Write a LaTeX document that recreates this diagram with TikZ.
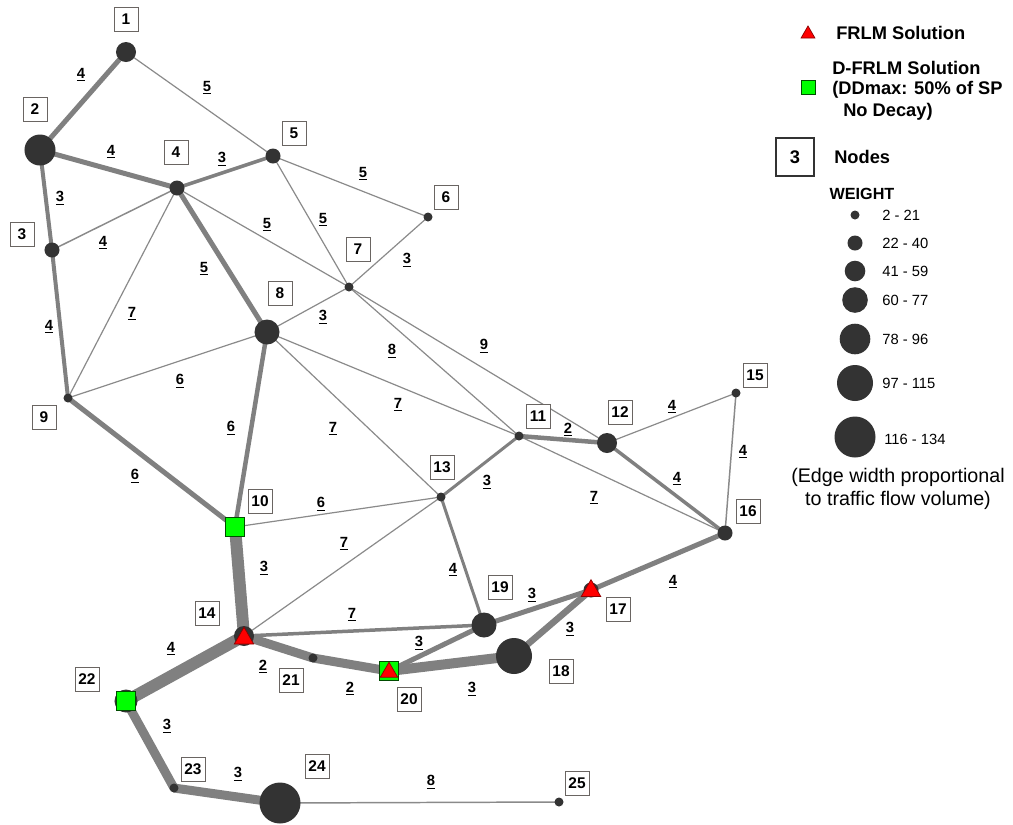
\documentclass[tikz,border=0pt]{standalone}
\usepackage{fontspec}
\setmainfont{Liberation Sans}
\usetikzlibrary{shapes.geometric,backgrounds}
\definecolor{vtxgray}{HTML}{333333}
\definecolor{linkgray}{HTML}{808080}
\definecolor{thingray}{HTML}{8A8A8A}
\definecolor{boxgray}{HTML}{6A6562}
\definecolor{frlmred}{HTML}{FF0000}
\definecolor{dfrlmgreen}{HTML}{00FF00}
\newcommand{\ulab}[1]{\underline{#1}}
\begin{document}
\begin{tikzpicture}[x=0.025cm,y=-0.025cm,
  vtx/.style={circle,fill=vtxgray,inner sep=0pt,minimum size=#1*0.05cm},
  link/.style={draw=linkgray,line width=#1*0.71pt},
  thin link/.style={draw=thingray,line width=0.85pt},
  idbox/.style={draw=boxgray,line width=0.6pt,fill=white,inner sep=0pt,
    minimum width=0.6cm,minimum height=0.6cm,font=\bfseries\fontsize{11}{12}\selectfont},
  elab/.style={inner sep=1pt,font=\bfseries\fontsize{10.5}{12}\selectfont},
  tri/.style={regular polygon,regular polygon sides=3,fill=frlmred,draw=red!55!black,
    line width=0.5pt,inner sep=0pt,minimum size=0.56cm},
  sq/.style={rectangle,fill=dfrlmgreen,draw=green!30!black,line width=0.5pt,
    inner sep=0pt,minimum size=0.48cm},
  legtext/.style={anchor=west,inner sep=0pt,font=\bfseries\fontsize{13}{15}\selectfont},
  rangetext/.style={anchor=west,inner sep=0pt,font=\fontsize{10.5}{12}\selectfont}
]
\useasboundingbox (0,0) rectangle (1013,824);

% ---------- vertices (radius in px) ----------
\node[vtx=10]   (v1)  at (126,52)  {};
\node[vtx=15.5] (v2)  at (40,150)  {};
\node[vtx=7.5]  (v3)  at (52,250)  {};
\node[vtx=7.5]  (v4)  at (177,188) {};
\node[vtx=7.5]  (v5)  at (273,156) {};
\node[vtx=4.5]  (v6)  at (428,217) {};
\node[vtx=4.5]  (v7)  at (349,287) {};
\node[vtx=12.5] (v8)  at (267,332) {};
\node[vtx=4.5]  (v9)  at (68,398)  {};
\node[vtx=4.5]  (v10) at (235,527) {};
\node[vtx=4.5]  (v11) at (519,436) {};
\node[vtx=10]   (v12) at (607,443) {};
\node[vtx=4.5]  (v13) at (441,497) {};
\node[vtx=10]   (v14) at (244,636) {};
\node[vtx=4.5]  (v15) at (736,393) {};
\node[vtx=7.5]  (v16) at (725,533) {};
\node[vtx=7.5]  (v17) at (591,590) {};
\node[vtx=18]   (v18) at (514,656) {};
\node[vtx=12.5] (v19) at (484,625) {};
\node[vtx=4.5]  (v20) at (389,671) {};
\node[vtx=4.5]  (v21) at (313,658) {};
\node[vtx=11.5] (v22) at (126,701) {};
\node[vtx=4.5]  (v23) at (174,788) {};
\node[vtx=20.5] (v24) at (280,803) {};
\node[vtx=4.5]  (v25) at (559,802) {};

% ---------- solution markers ----------
\node[sq]  (m10)  at (v10) {};
\node[sq]  (m22)  at (v22) {};
\node[sq]  (m20s) at (v20) {};
\node[tri,minimum size=0.5cm] (m20t) at ([yshift=-0.03cm]v20) {};
\node[tri] (m14) at ([yshift=-0.06cm]v14) {};
\node[tri] (m17) at ([yshift=-0.02cm]v17) {};

% ---------- node number boxes ----------
\node[idbox] (t1)  at (126,19)  {1};
\node[idbox] (t2)  at (35,109)  {2};
\node[idbox] (t3)  at (22,234)  {3};
\node[idbox] (t4)  at (176,152) {4};
\node[idbox] (t5)  at (294,133) {5};
\node[idbox] (t6)  at (446,197) {6};
\node[idbox] (t7)  at (358,249) {7};
\node[idbox] (t8)  at (280,293) {8};
\node[idbox] (t9)  at (44,417)  {9};
\node[idbox] (t10) at (260,501) {10};
\node[idbox] (t11) at (538,416) {11};
\node[idbox] (t12) at (620,412) {12};
\node[idbox] (t13) at (442,467) {13};
\node[idbox] (t14) at (207,613) {14};
\node[idbox] (t15) at (755,375) {15};
\node[idbox] (t16) at (748,511) {16};
\node[idbox] (t17) at (618,609) {17};
\node[idbox] (t18) at (561,671) {18};
\node[idbox] (t19) at (500,587) {19};
\node[idbox] (t20) at (409,699) {20};
\node[idbox] (t21) at (291,680) {21};
\node[idbox] (t22) at (87,679)  {22};
\node[idbox] (t23) at (193,769) {23};
\node[idbox] (t24) at (317,766) {24};
\node[idbox] (t25) at (577,783) {25};

% ---------- link distances ----------
\node[elab] (d1-2)   at (81,75)   {\ulab{4}};
\node[elab] (d1-5)   at (207,88)  {\ulab{5}};
\node[elab] (d2-4)   at (111,152) {\ulab{4}};
\node[elab] (d2-3)   at (60,198)  {\ulab{3}};
\node[elab] (d4-5)   at (222,159) {\ulab{3}};
\node[elab] (d3-4)   at (103,243) {\ulab{4}};
\node[elab] (d4-7)   at (267,225) {\ulab{5}};
\node[elab] (d5-7)   at (323,220) {\ulab{5}};
\node[elab] (d5-6)   at (363,174) {\ulab{5}};
\node[elab] (d6-7)   at (407,260) {\ulab{3}};
\node[elab] (d7-8)   at (323,317) {\ulab{3}};
\node[elab] (d4-8)   at (204,269) {\ulab{5}};
\node[elab] (d4-9)   at (132,314) {\ulab{7}};
\node[elab] (d3-9)   at (49,327)  {\ulab{4}};
\node[elab] (d8-9)   at (180,381) {\ulab{6}};
\node[elab] (d8-10)  at (231,428) {\ulab{6}};
\node[elab] (d9-10)  at (135,476) {\ulab{6}};
\node[elab] (d7-11)  at (392,351) {\ulab{8}};
\node[elab] (d7-12)  at (484,346) {\ulab{9}};
\node[elab] (d8-11)  at (398,405) {\ulab{7}};
\node[elab] (d8-13)  at (333,429) {\ulab{7}};
\node[elab] (d11-13) at (487,482) {\ulab{3}};
\node[elab] (d10-13) at (321,504) {\ulab{6}};
\node[elab] (d13-14) at (344,544) {\ulab{7}};
\node[elab] (d13-19) at (453,570) {\ulab{4}};
\node[elab] (d11-12) at (568,430) {\ulab{2}};
\node[elab] (d11-16) at (594,498) {\ulab{7}};
\node[elab] (d12-16) at (677,479) {\ulab{4}};
\node[elab] (d12-15) at (672,407) {\ulab{4}};
\node[elab] (d15-16) at (743,452) {\ulab{4}};
\node[elab] (d16-17) at (673,582) {\ulab{4}};
\node[elab] (d17-19) at (532,595) {\ulab{3}};
\node[elab] (d17-18) at (570,629) {\ulab{3}};
\node[elab] (d10-14) at (264,568) {\ulab{3}};
\node[elab] (d14-19) at (352,615) {\ulab{7}};
\node[elab] (d19-20) at (419,643) {\ulab{3}};
\node[elab] (d14-21) at (263,667) {\ulab{2}};
\node[elab] (d20-21) at (350,689) {\ulab{2}};
\node[elab] (d18-20) at (472,689) {\ulab{3}};
\node[elab] (d14-22) at (171,649) {\ulab{4}};
\node[elab] (d22-23) at (167,726) {\ulab{3}};
\node[elab] (d23-24) at (238,774) {\ulab{3}};
\node[elab] (d24-25) at (431,782) {\ulab{8}};

% ---------- legend ----------
\node[tri,minimum size=0.4cm] (lgtri) at (808,34) {};
\node[legtext] (lgfrlm) at (836,33) {FRLM Solution};
\node[sq,minimum size=0.35cm] (lgsq) at (808,87) {};
\node[legtext] (lgd1) at (832,68)  {D-FRLM Solution};
\node[legtext] (lgd2) at (832,90)  {(DDmax: 50\% of SP};
\node[legtext] (lgd3) at (843,112) {No Decay)};
\node[draw=black!80,line width=0.9pt,fill=white,inner sep=0pt,minimum size=0.95cm,
  font=\bfseries\fontsize{13}{15}\selectfont] (lgbox) at (795,157) {3};
\node[legtext] (lgnodes) at (834,157) {Nodes};
\node[inner sep=0pt,font=\bfseries\fontsize{11.5}{13}\selectfont] (lgweight) at (862,194) {WEIGHT};
\node[vtx=4.5]  (lgc1) at (855,215) {};
\node[vtx=7.5]  (lgc2) at (855,243) {};
\node[vtx=10.3] (lgc3) at (855,271) {};
\node[vtx=12.8] (lgc4) at (855,300) {};
\node[vtx=15.3] (lgc5) at (855,339) {};
\node[vtx=18]   (lgc6) at (855,383) {};
\node[vtx=20.5] (lgc7) at (855,437) {};
\node[rangetext] (lgr1) at (882,215) {2 - 21};
\node[rangetext] (lgr2) at (882,243) {22 - 40};
\node[rangetext] (lgr3) at (882,271) {41 - 59};
\node[rangetext] (lgr4) at (882,300) {60 - 77};
\node[rangetext] (lgr5) at (882,339) {78 - 96};
\node[rangetext] (lgr6) at (882,383) {97 - 115};
\node[rangetext] (lgr7) at (884,439) {116 - 134};
\node[inner sep=0pt,align=center,font=\fontsize{14}{16.5}\selectfont] (lgnote) at (898,489)
  {(Edge width proportional\\ to traffic flow volume)};

% ---------- links (drawn beneath the vertices) ----------
\begin{pgfonlayer}{background}
\fill[white] (0,0) rectangle (1013,824);
% light links
\draw[thin link] (v1.center) -- (v5.center);
\draw[thin link,line width=1.05pt] (v3.center) -- (v4.center);
\draw[thin link] (v4.center) -- (v7.center);
\draw[thin link] (v4.center) -- (v9.center);
\draw[thin link] (v5.center) -- (v6.center);
\draw[thin link] (v5.center) -- (v7.center);
\draw[thin link] (v6.center) -- (v7.center);
\draw[thin link] (v7.center) -- (v8.center);
\draw[thin link] (v7.center) -- (v11.center);
\draw[thin link] (v7.center) -- (v12.center);
\draw[thin link] (v8.center) -- (v9.center);
\draw[thin link] (v8.center) -- (v11.center);
\draw[thin link] (v8.center) -- (v13.center);
\draw[thin link] (v10.center) -- (v13.center);
\draw[thin link] (v11.center) -- (v16.center);
\draw[thin link] (v12.center) -- (v15.center);
\draw[thin link,line width=1.05pt] (v15.center) -- (v16.center);
\draw[thin link] (v13.center) -- (v14.center);
\draw[thin link,line width=1.05pt] (v24.center) -- (v25.center);
% heavier links, width in px
\draw[link=5]   (v1.center) -- (v2.center);
\draw[link=5]   (v2.center) -- (v4.center);
\draw[link=4]   (v2.center) -- (v3.center);
\draw[link=4]   (v3.center) -- (v9.center);
\draw[link=3.5] (v4.center) -- (v5.center);
\draw[link=5]   (v4.center) -- (v8.center);
\draw[link=5]   (v9.center) -- (v10.center);
\draw[link=4.5] (v8.center) -- (v10.center);
\draw[link=4.5] (v11.center) -- (v12.center);
\draw[link=3.5] (v12.center) -- (v16.center);
\draw[link=3]   (v11.center) -- (v13.center);
\draw[link=3]   (v13.center) -- (v19.center);
\draw[link=3.5] (v14.center) -- (v19.center);
\draw[link=12]  (v10.center) -- (v14.center);
\draw[link=12]  (v14.center) -- (v22.center);
\draw[link=9]   (v14.center) -- (v21.center);
\draw[link=9]   (v21.center) -- (v20.center);
\draw[link=10]  (v20.center) -- (v18.center);
\draw[link=5]   (v20.center) -- (v19.center);
\draw[link=5]   (v17.center) -- (v19.center);
\draw[link=6.5] (v17.center) -- (v18.center);
\draw[link=5]   (v16.center) -- (v17.center);
\draw[link=9]   (v22.center) -- (v23.center);
\draw[link=9]   (v23.center) -- (v24.center);
\end{pgfonlayer}
\end{tikzpicture}
\end{document}
